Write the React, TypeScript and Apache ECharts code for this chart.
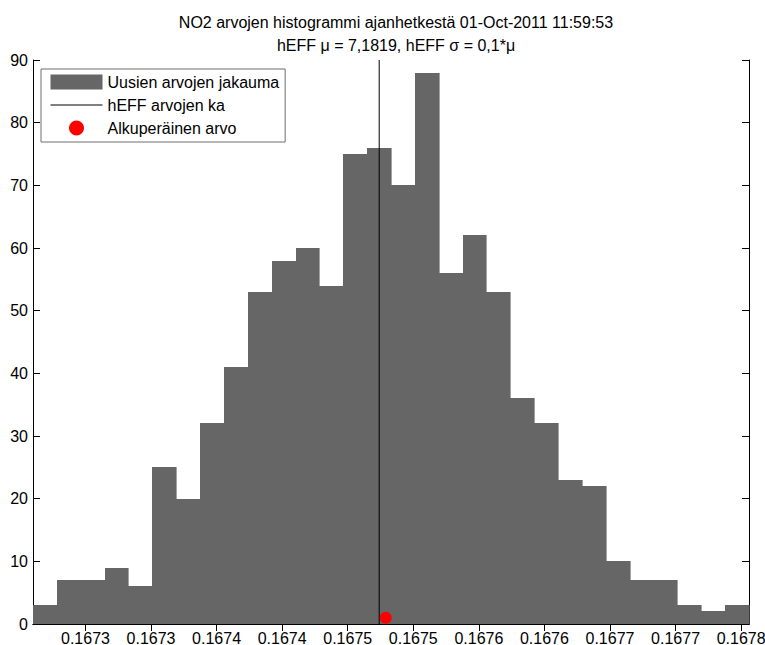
import React, { useEffect, useRef } from "react";
import * as echarts from "echarts";

// Histogram of NO2 values (30 bins)
const BIN_START = 0.16726;
const BIN_WIDTH = 0.0000182;
const COUNTS = [3, 7, 7, 9, 6, 25, 20, 32, 41, 53, 58, 60, 54, 75, 76, 70, 88, 56, 62, 53, 36, 32, 23, 22, 10, 7, 7, 3, 2, 3];

// Mean of hEFF values (vertical line) and original value (red dot)
const MEAN_X = 0.167524;
const ORIGINAL_POINT = [0.167529, 1];

// X ticks and their labels (as printed on the figure)
const X_TICKS = [0.1673, 0.16735, 0.1674, 0.16745, 0.1675, 0.16755, 0.1676, 0.16765, 0.1677, 0.16775, 0.1678];
const X_TICK_LABELS = ["0.1673", "0.1673", "0.1674", "0.1674", "0.1675", "0.1675", "0.1676", "0.1676", "0.1677", "0.1677", "0.1678"];

const Y_MIN = 0;
const Y_MAX = 90;
const Y_INTERVAL = 10;

const SERIES_NAMES = ["Uusien arvojen jakauma", "hEFF arvojen ka", "Alkuperäinen arvo"];
const TITLE_LINE_1 = "NO2 arvojen histogrammi ajanhetkestä 01-Oct-2011 11:59:53";
const TITLE_LINE_2 = "hEFF μ = 7,1819, hEFF σ = 0,1*μ";

const FONT = "'Liberation Sans', Arial, Helvetica, sans-serif";

export default function App() {
  const ref = useRef<HTMLDivElement>(null);

  useEffect(() => {
    if (!ref.current) return;
    const chart = echarts.init(ref.current, undefined, { renderer: "svg" });

    const bins = COUNTS.map((c, i) => [BIN_START + i * BIN_WIDTH, BIN_START + (i + 1) * BIN_WIDTH, c]);
    const xMin = BIN_START;
    const xMax = BIN_START + COUNTS.length * BIN_WIDTH;

    const labelFor = (v: number) => {
      let best = 0;
      let bd = Infinity;
      X_TICKS.forEach((t, i) => {
        const d = Math.abs(t - v);
        if (d < bd) {
          bd = d;
          best = i;
        }
      });
      return X_TICK_LABELS[best];
    };

    const axisLine = { show: true, lineStyle: { color: "#000", width: 1 } };
    const tickStyle = { show: true, inside: true, length: 7, lineStyle: { color: "#000", width: 1 } };

    chart.setOption({
      animation: false,
      backgroundColor: "#fff",
      textStyle: { fontFamily: FONT },
      title: [
        {
          text: TITLE_LINE_1,
          left: 391,
          top: 9,
          textAlign: "center",
          textStyle: { fontFamily: FONT, fontSize: 16, fontWeight: "normal", color: "#000" },
        },
        {
          text: TITLE_LINE_2,
          left: 391,
          top: 32,
          textAlign: "center",
          textStyle: { fontFamily: FONT, fontSize: 16, fontWeight: "normal", color: "#000" },
        },
      ],
      legend: {
        orient: "vertical",
        left: 41,
        top: 69,
        padding: [5, 6, 6, 9],
        itemWidth: 52,
        itemHeight: 15,
        itemGap: 7,
        backgroundColor: "#fff",
        borderColor: "#6e6e6e",
        borderWidth: 1,
        borderRadius: 0,
        selectedMode: false,
        textStyle: { fontFamily: FONT, fontSize: 16, color: "#000", lineHeight: 15 },
        data: [
          { name: SERIES_NAMES[0], icon: "rect" },
          { name: SERIES_NAMES[1], itemStyle: { opacity: 0 }, lineStyle: { color: "#000", width: 1 } },
          { name: SERIES_NAMES[2], icon: "circle", itemStyle: { color: "#ff0000", opacity: 1 } },
        ],
      },
      grid: { left: 33, top: 60, width: 716, height: 564, containLabel: false, outerBoundsMode: "none" },
      xAxis: [
        {
          type: "value",
          min: xMin,
          max: xMax,
          position: "bottom",
          axisLine,
          axisTick: { ...tickStyle, customValues: X_TICKS },
          splitLine: { show: false },
          axisLabel: {
            customValues: X_TICKS,
            formatter: (v: number) => labelFor(v),
            color: "#000",
            fontSize: 16,
            fontFamily: FONT,
            margin: 6,
          },
        },
        {
          type: "value",
          min: xMin,
          max: xMax,
          position: "top",
          axisLine,
          axisTick: { ...tickStyle, customValues: X_TICKS },
          splitLine: { show: false },
          axisLabel: { show: false },
        },
      ],
      yAxis: [
        {
          type: "value",
          min: Y_MIN,
          max: Y_MAX,
          interval: Y_INTERVAL,
          position: "left",
          axisLine,
          axisTick: tickStyle,
          splitLine: { show: false },
          axisLabel: { color: "#000", fontSize: 16, fontFamily: FONT, margin: 5 },
        },
        {
          type: "value",
          min: Y_MIN,
          max: Y_MAX,
          interval: Y_INTERVAL,
          position: "right",
          axisLine,
          axisTick: tickStyle,
          splitLine: { show: false },
          axisLabel: { show: false },
        },
      ],
      series: [
        {
          name: SERIES_NAMES[0],
          type: "custom",
          xAxisIndex: 0,
          yAxisIndex: 0,
          itemStyle: { color: "#666666" },
          encode: { x: [0, 1], y: 2 },
          data: bins,
          z: 1,
          renderItem: (params: any, api: any) => {
            const p0 = api.coord([api.value(0), api.value(2)]);
            const p1 = api.coord([api.value(1), 0]);
            const x0 = Math.round(p0[0]);
            const x1 = Math.round(p1[0]);
            const y0 = Math.round(p0[1]);
            const y1 = Math.round(p1[1]);
            return {
              type: "rect",
              shape: { x: x0, y: y0, width: x1 - x0 + 0.6, height: y1 - y0 },
              style: { fill: "#666666" },
            };
          },
        },
        {
          name: SERIES_NAMES[1],
          type: "line",
          xAxisIndex: 0,
          yAxisIndex: 0,
          data: [
            [MEAN_X, Y_MIN],
            [MEAN_X, Y_MAX],
          ],
          symbol: "none",
          showSymbol: false,
          lineStyle: { color: "#000", width: 1 },
          itemStyle: { color: "#000" },
          z: 3,
        },
        {
          name: SERIES_NAMES[2],
          type: "scatter",
          xAxisIndex: 0,
          yAxisIndex: 0,
          data: [ORIGINAL_POINT],
          symbol: "circle",
          symbolSize: 12,
          itemStyle: { color: "#ff0000", opacity: 1 },
          z: 4,
        },
      ],
    });

    return () => chart.dispose();
  }, []);

  return (
    <div
      ref={ref}
      style={{ position: "absolute", left: 0, top: 0, width: 765, height: 645 }}
    />
  );
}
